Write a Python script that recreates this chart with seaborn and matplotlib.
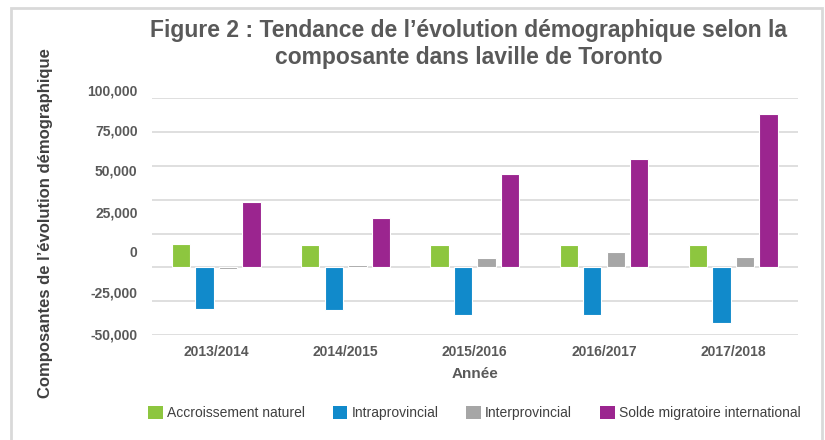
import pandas as pd
import matplotlib
matplotlib.use("Agg")
import matplotlib.pyplot as plt
from matplotlib.patches import Rectangle, Patch
import seaborn as sns

# Data
years = ["2013/2014", "2014/2015", "2015/2016", "2016/2017", "2017/2018"]
components = ["Accroissement naturel", "Intraprovincial", "Interprovincial",
              "Solde migratoire international"]
natural = [17200, 16700, 16500, 16500, 16200]
intraprov = [-30800, -31500, -35500, -35200, -40900]
interprov = [-1000, 1700, 6600, 11500, 7800]
international = [48400, 36600, 68700, 80200, 113400]

colors = ["#8DC63F", "#118ACB", "#A6A6A6", "#9B258F"]
ytick_labels = ["100,000", "75,000", "50,000", "25,000", "0", "-25,000", "-50,000"]

grey_txt = "#595959"

df = pd.DataFrame({
    "Année": years * 4,
    "Composante": [c for c in components for _ in years],
    "Valeur": natural + intraprov + interprov + international,
})

sns.set_style("white")
plt.rcParams["font.family"] = ["Liberation Sans", "DejaVu Sans"]

fig = plt.figure(figsize=(8.25, 4.4), dpi=100)
ax = fig.add_axes([0.184, 0.2386, 0.783, 0.538])

sns.barplot(data=df, x="Année", y="Valeur", hue="Composante",
            order=years, hue_order=components, palette=colors, saturation=1,
            width=0.728, gap=0.22, edgecolor="white", linewidth=0.8,
            legend=False, ax=ax)

ax.set_xlim(-0.5, 4.5)
ax.set_ylim(-50000, 125000)
ax.set_yticks(range(-50000, 125001, 25000))
ax.set_yticklabels([])
ax.tick_params(axis="y", length=0)
ax.tick_params(axis="x", length=0, pad=7, labelsize=10, labelcolor=grey_txt)
for lab in ax.get_xticklabels():
    lab.set_fontweight("bold")
ax.grid(axis="y", color="#D9D9D9", linewidth=1.2)
ax.set_axisbelow(True)
for s in ax.spines.values():
    s.set_visible(False)

# y tick labels as drawn in the reference (spaced evenly down the axis)
label_pos = [1.027, 0.858, 0.689, 0.515, 0.346, 0.177, 0.0]
for txt, yp in zip(ytick_labels, label_pos):
    ax.text(-0.022, yp, txt, transform=ax.transAxes, ha="right", va="center",
            fontsize=10, fontweight="bold", color=grey_txt)

ax.set_xlabel("Année", fontsize=11, fontweight="bold", color=grey_txt, labelpad=6)
ax.set_ylabel("")
fig.text(0.055, 0.493, "Composantes de l’évolution démographique", rotation=90,
         ha="center", va="center", fontsize=12, fontweight="bold", color="#404040")

fig.text(0.568, 0.9, "Figure 2 : Tendance de l’évolution démographique selon la\n"
         "composante dans laville de Toronto", ha="center", va="center",
         fontsize=16.5, fontweight="bold", color=grey_txt, linespacing=1.25)

handles = [Patch(facecolor=c, edgecolor="none") for c in colors]
fig.legend(handles, components, loc="center", bbox_to_anchor=(0.575, 0.061),
           ncol=4, frameon=False, handlelength=1.05, handleheight=1.05,
           handletextpad=0.3, columnspacing=2.0,
           prop={"size": 10}, labelcolor="#404040")

fig.patches.append(Rectangle((11 / 825, -0.05), 811 / 825, 1.05 - 8 / 440,
                             transform=fig.transFigure, fill=False,
                             edgecolor="#D9D9D9", linewidth=2))

plt.savefig("out.png", dpi=100)
plt.close()
